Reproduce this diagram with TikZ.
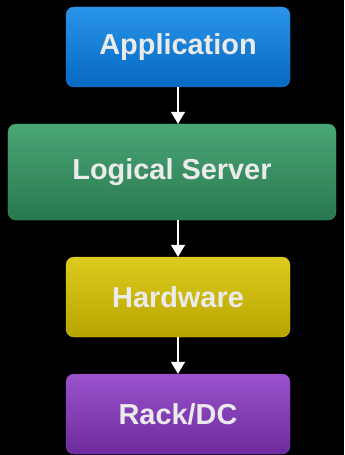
\documentclass[tikz,border=0pt]{standalone}
\usepackage{fontspec}
\setmainfont{Liberation Sans}
\usetikzlibrary{arrows.meta, positioning}
\definecolor{appblue}{HTML}{0668C2}
\definecolor{appblueTop}{HTML}{2A95E8}
\definecolor{srvgreen}{HTML}{28784E}
\definecolor{srvgreenTop}{HTML}{4AA677}
\definecolor{hwyellow}{HTML}{B8A400}
\definecolor{hwyellowTop}{HTML}{DCCC1E}
\definecolor{rackpurple}{HTML}{6C2A9C}
\definecolor{rackpurpleTop}{HTML}{9A52CC}
\tikzset{>=stealth}
\tikzset{
  layer/.style={rounded corners=8bp, inner sep=0pt, font=\bfseries\fontsize{29}{32}\selectfont,
    text=white!92!black, minimum height=80bp, minimum width=224bp},
  flow/.style={white, line width=1.6bp, -{Triangle[width=14bp,length=12bp]}}
}

\begin{document}
\begin{tikzpicture}[x=1bp, y=-1bp]
    \fill[black] (0,0) rectangle (344,455);
    \useasboundingbox (0,0) rectangle (344,455);
    \node[layer, top color=appblueTop, bottom color=appblue, draw=appblueTop!70!appblue] (app) at (178,47) {Application};
    \node[layer, top color=srvgreenTop, bottom color=srvgreen, draw=srvgreenTop!70!srvgreen,
          minimum width=328bp, minimum height=96bp] (srv) at (172,172) {Logical Server};
    \node[layer, top color=hwyellowTop, bottom color=hwyellow, draw=hwyellowTop!70!hwyellow] (hw) at (178,297) {Hardware};
    \node[layer, top color=rackpurpleTop, bottom color=rackpurple, draw=rackpurpleTop!70!rackpurple] (rack) at (178,414) {Rack/DC};
    \draw[flow] (app.south) -- (app.south |- srv.north);
    \draw[flow] (app.south |- srv.south) -- (app.south |- hw.north);
    \draw[flow] (hw.south) -- (rack.north);
\end{tikzpicture}
\end{document}
